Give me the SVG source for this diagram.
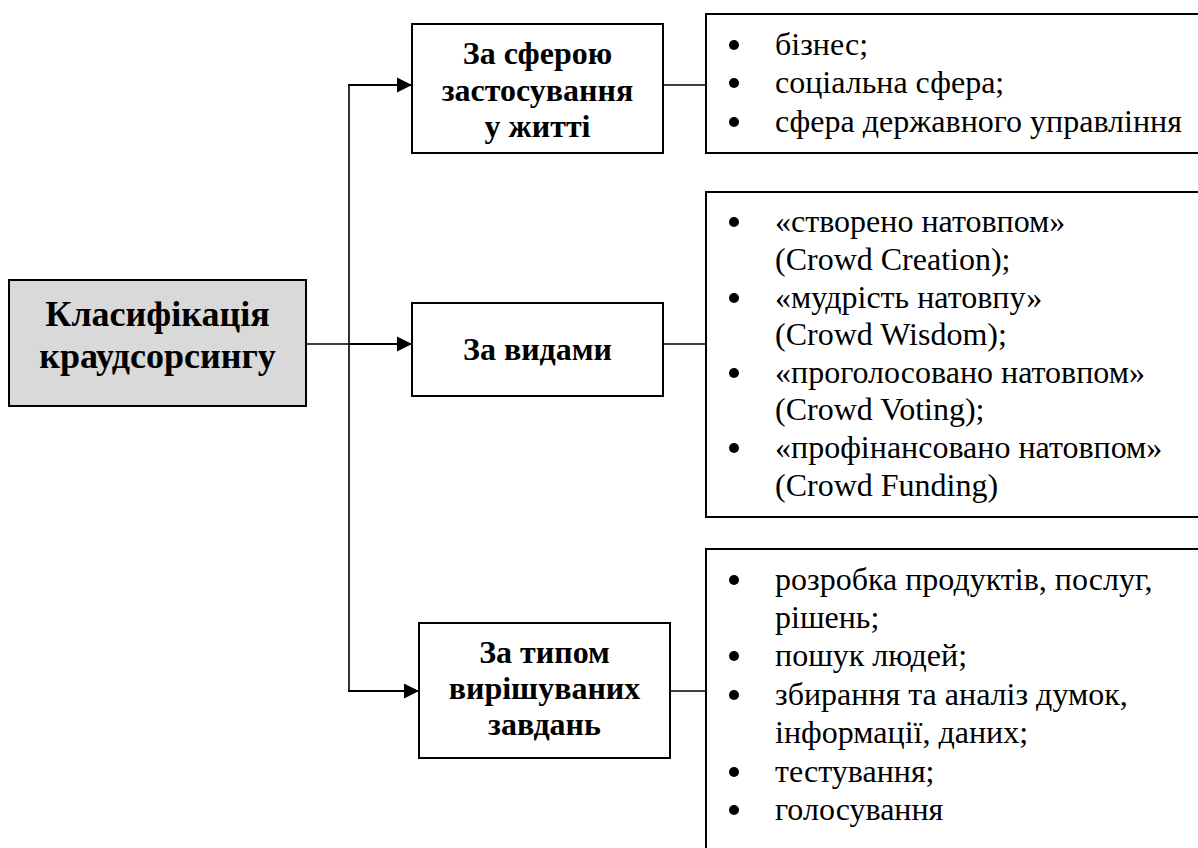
<svg xmlns="http://www.w3.org/2000/svg" width="1198" height="848" viewBox="0 0 1198 848" font-family="'Liberation Serif', 'DejaVu Serif', serif">
  <style>
    .box { fill: #ffffff; stroke: #000000; stroke-width: 2; }
    .main { fill: #d9d9d9; stroke: #000000; stroke-width: 2; }
    .lbl { font-weight: bold; font-size: 32px; text-anchor: middle; fill: #000; }
    .mainlbl { font-weight: bold; font-size: 36px; text-anchor: middle; fill: #000; }
    .item { font-size: 32px; fill: #000; }
    .wire { fill: none; stroke: #000000; stroke-width: 1.6; }
    .arrow { fill: none; stroke: #000000; stroke-width: 2.2; }
    .dot { fill: #000000; }
  </style>
  <defs>
    <marker id="arr" markerUnits="userSpaceOnUse" markerWidth="16" markerHeight="16" viewBox="0 0 16 16" refX="15" refY="8" orient="auto">
      <path d="M0,0.5 L15,8 L0,15.5 Z" fill="#000"/>
    </marker>
  </defs>
  <rect width="1198" height="848" fill="#ffffff"/>

  <g id="connectors">
    <path class="wire" d="M306,344 H349"/>
    <path class="wire" d="M349,85 V691"/>
    <path class="arrow" d="M348,85 H412" marker-end="url(#arr)"/>
    <path class="arrow" d="M348,344 H412" marker-end="url(#arr)"/>
    <path class="arrow" d="M348,691 H419" marker-end="url(#arr)"/>
    <path class="wire" d="M663,85 H706"/>
    <path class="wire" d="M663,344 H706"/>
    <path class="wire" d="M670,691 H706"/>
  </g>

  <g id="node-main">
    <rect class="main" x="9" y="280" width="297" height="126"/>
    <text class="mainlbl" x="157.5" y="326">Класифікація</text>
    <text class="mainlbl" x="157.5" y="368">краудсорсингу</text>
  </g>

  <g id="node-sphere">
    <rect class="box" x="412" y="24" width="251" height="129"/>
    <text class="lbl" x="537.5" y="64">За сферою</text>
    <text class="lbl" x="537.5" y="101">застосування</text>
    <text class="lbl" x="537.5" y="137">у житті</text>
  </g>

  <g id="node-types">
    <rect class="box" x="412" y="303" width="251" height="93"/>
    <text class="lbl" x="537.5" y="360">За видами</text>
  </g>

  <g id="node-tasks">
    <rect class="box" x="419" y="623" width="251" height="135"/>
    <text class="lbl" x="544.5" y="663">За типом</text>
    <text class="lbl" x="544.5" y="699">вирішуваних</text>
    <text class="lbl" x="544.5" y="735">завдань</text>
  </g>

  <g id="node-sphere-list">
    <rect class="box" x="706" y="14" width="520" height="139"/>
    <circle class="dot" cx="734" cy="45" r="5"/>
    <circle class="dot" cx="734" cy="83" r="5"/>
    <circle class="dot" cx="734" cy="122" r="5"/>
    <text class="item" x="775" y="55">бізнес;</text>
    <text class="item" x="775" y="93">соціальна сфера;</text>
    <text class="item" x="775" y="132">сфера державного управління</text>
  </g>

  <g id="node-types-list">
    <rect class="box" x="706" y="192" width="520" height="325"/>
    <circle class="dot" cx="734" cy="222" r="5"/>
    <circle class="dot" cx="734" cy="298" r="5"/>
    <circle class="dot" cx="734" cy="373" r="5"/>
    <circle class="dot" cx="734" cy="448" r="5"/>
    <text class="item" x="775" y="232">«створено натовпом»</text>
    <text class="item" x="775" y="270">(Crowd Creation);</text>
    <text class="item" x="775" y="308">«мудрість натовпу»</text>
    <text class="item" x="775" y="345">(Crowd Wisdom);</text>
    <text class="item" x="775" y="383">«проголосовано натовпом»</text>
    <text class="item" x="775" y="420">(Crowd Voting);</text>
    <text class="item" x="775" y="458">«профінансовано натовпом»</text>
    <text class="item" x="775" y="496">(Crowd Funding)</text>
  </g>

  <g id="node-tasks-list">
    <rect class="box" x="706" y="549" width="520" height="320"/>
    <circle class="dot" cx="734" cy="580" r="5"/>
    <circle class="dot" cx="734" cy="656" r="5"/>
    <circle class="dot" cx="734" cy="695" r="5"/>
    <circle class="dot" cx="734" cy="772" r="5"/>
    <circle class="dot" cx="734" cy="810" r="5"/>
    <text class="item" x="775" y="590">розробка продуктів, послуг,</text>
    <text class="item" x="775" y="628">рішень;</text>
    <text class="item" x="775" y="666">пошук людей;</text>
    <text class="item" x="775" y="705">збирання та аналіз думок,</text>
    <text class="item" x="775" y="743">інформації, даних;</text>
    <text class="item" x="775" y="782">тестування;</text>
    <text class="item" x="775" y="820">голосування</text>
  </g>
</svg>
